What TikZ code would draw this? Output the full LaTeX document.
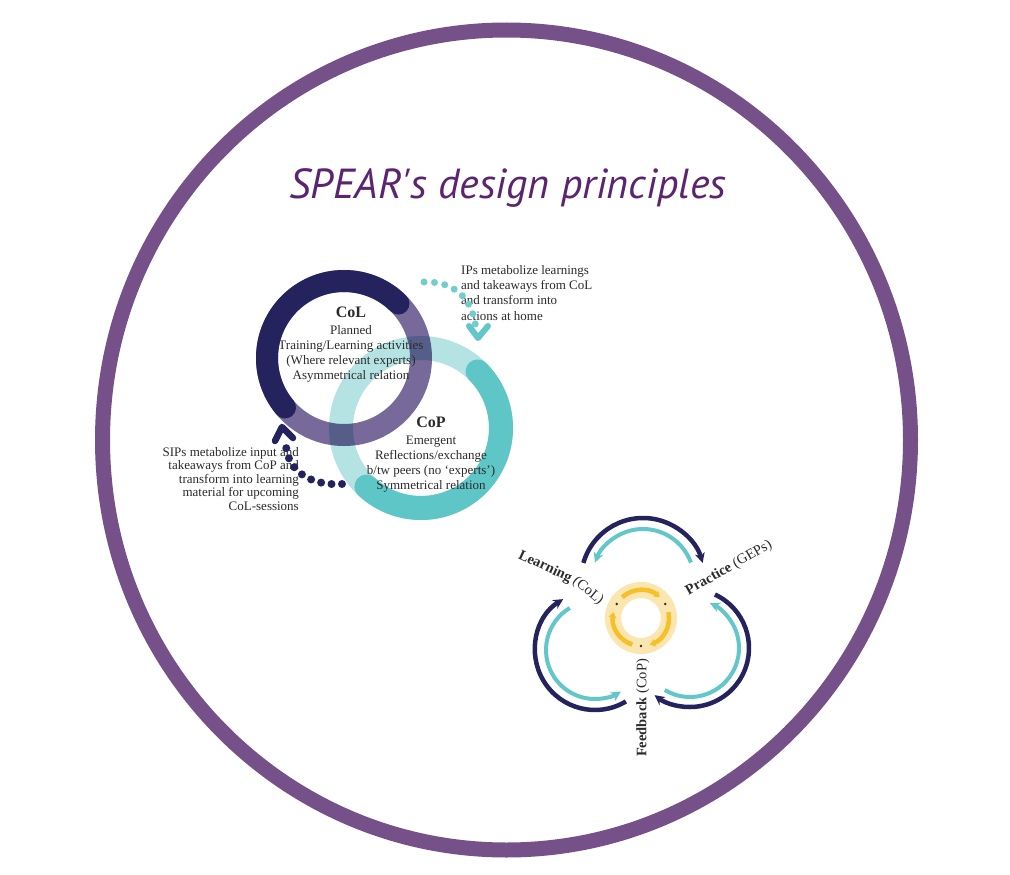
\documentclass[tikz,border=0pt]{standalone}
\usepackage{fontspec}
\setmainfont{Liberation Serif}
\newfontfamily\titlefont{PT Sans}
\usetikzlibrary{arrows.meta}
\definecolor{ringpurple}{HTML}{765089}
\definecolor{titlepurple}{HTML}{5B2370}
\definecolor{navy}{HTML}{25235E}
\definecolor{colpurple}{HTML}{776A9A}
\definecolor{copteal}{HTML}{5EC6C6}
\definecolor{lteal}{HTML}{B5E3E3}
\definecolor{arrteal}{HTML}{63C7C9}
\definecolor{dotteal}{HTML}{72CDCD}
\definecolor{yband}{HTML}{FCE6B0}
\definecolor{yarrow}{HTML}{F6C02B}
\definecolor{txt}{HTML}{2B2B2B}
\begin{document}
\begin{tikzpicture}[x=1pt,y=-1pt,
  bodytext/.style={text=txt, font=\fontsize{13}{15.3}\selectfont, inner sep=0pt},
  lbl/.style={text=txt, font=\fontsize{14.5}{16}\selectfont, inner sep=0pt},
  dotline/.style={line cap=round, dash pattern=on 0pt off 10.5pt},
  chev/.style={line cap=round, line join=round},
  navyarc/.style={navy, line width=4.5, -{Stealth[length=10pt,width=10pt]}},
  tealarc/.style={arrteal, line width=4, -{Stealth[length=10pt,width=10pt]}},
  yarc/.style={yarrow, line width=4.5, -{Stealth[length=6pt,width=8pt]}}]
\useasboundingbox (0,0) rectangle (1010,875);
\fill[white] (0,0) rectangle (1010,875);

% big frame ring
\coordinate (frame) at (506.5,440);
\draw[ringpurple, line width=15] (frame) ellipse[x radius=404, y radius=410];

% title
\node[text=titlepurple, font=\titlefont\itshape\fontsize{42}{48}\selectfont] (title) at (508,188) {SPEAR's design principles};

% ---- CoP ring
\coordinate (copc) at (421,428);
\draw[lteal, line width=24] (copc) circle[radius=80];
\draw[copteal, line width=24, line cap=round] (copc) ++(-45:80) arc[start angle=-45, end angle=133, radius=80];

% ---- CoL ring
\coordinate (colc) at (344,358);
\draw[colpurple, line width=22, blend mode=multiply] (colc) circle[radius=77];
\draw[navy, line width=22, line cap=round] (colc) ++(140:77) arc[start angle=140, end angle=315, radius=77];

% texts in rings
\node[bodytext, align=center] (col) at (351,345) {{\bfseries\fontsize{16}{18}\selectfont CoL}\\[1pt]Planned\\Training/Learning activities\\(Where relevant experts)\\Asymmetrical relation};
\node[bodytext, align=center] (cop) at (431,455) {{\bfseries\fontsize{16}{18}\selectfont CoP}\\[1pt]Emergent\\Reflections/exchange\\b/tw peers (no `experts')\\Symmetrical relation};

% side texts
\node[bodytext, align=left, anchor=north west] (ips) at (461,265) {IPs metabolize learnings\\and takeaways from CoL\\and transform into\\actions at home};
\node[bodytext, align=right, anchor=north east, font=\fontsize{13}{13.5}\selectfont] (sips) at (299,447) {SIPs metabolize input and\\takeaways from CoP and\\transform into learning\\material for upcoming\\CoL-sessions};

% dotted arrows
\coordinate (ta) at (424,282);
\coordinate (tb) at (476,330);
\coordinate (ttip) at (478,338);
\draw[dotteal, line width=7, dotline] (ta) .. controls (452,281) and (473,296) .. (tb);
\draw[arrteal, line width=6, chev] (ttip) ++(-9,-12) -- (ttip) -- ++(10,-12);

\coordinate (na) at (342,484);
\coordinate (nb) at (286,446);
\coordinate (ntip) at (282,427);
\draw[navy, line width=8, dotline] (na) .. controls (312,486) and (288,472) .. (nb);
\draw[navy, line width=6.5, chev] (ntip) ++(-7,14) -- (ntip) -- ++(11,11);

% ---- right cycle diagram
\coordinate (topc) at (643,580);
\coordinate (leftc) at (595,650);
\coordinate (rightc) at (690,648);
\coordinate (yc) at (641,618);

\draw[navyarc] (topc) ++(196:62) arc[start angle=196, end angle=344, radius=62];
\draw[tealarc] (topc) ++(340:51) arc[start angle=340, end angle=200, radius=51];
\draw[navyarc] (leftc) ++(59:60) arc[start angle=59, end angle=238, radius=60];
\draw[tealarc] (leftc) ++(239:49) arc[start angle=239, end angle=58, radius=49];
\draw[navyarc] (rightc) ++(-65:59) arc[start angle=-65, end angle=127, radius=59];
\draw[tealarc] (rightc) ++(121:49) arc[start angle=121, end angle=-66, radius=49];

% yellow ring
\draw[yband, line width=16] (yc) circle[radius=28];
\draw[yarc] (yc) ++(228:28) arc[start angle=228, end angle=312, radius=28];
\draw[yarc] (yc) ++(348:28) arc[start angle=348, end angle=432, radius=28];
\draw[yarc] (yc) ++(108:28) arc[start angle=108, end angle=192, radius=28];
\fill[txt] (yc) ++(210:28) circle[radius=1.3];
\fill[txt] (yc) ++(330:28) circle[radius=1.3];
\fill[txt] (yc) ++(90:28) circle[radius=1.3];

% labels
\node[lbl, rotate=-25] (learn) at (545,567) {\bfseries Learning};
\node[lbl, rotate=-40] (learncol) at (588,591) {(CoL)};
\node[lbl, rotate=30] (practice) at (729,568) {\bfseries Practice \mdseries(GEPs)};
\node[lbl, rotate=90] (feedback) at (643,708) {\bfseries Feedback \mdseries(CoP)};
\end{tikzpicture}
\end{document}
